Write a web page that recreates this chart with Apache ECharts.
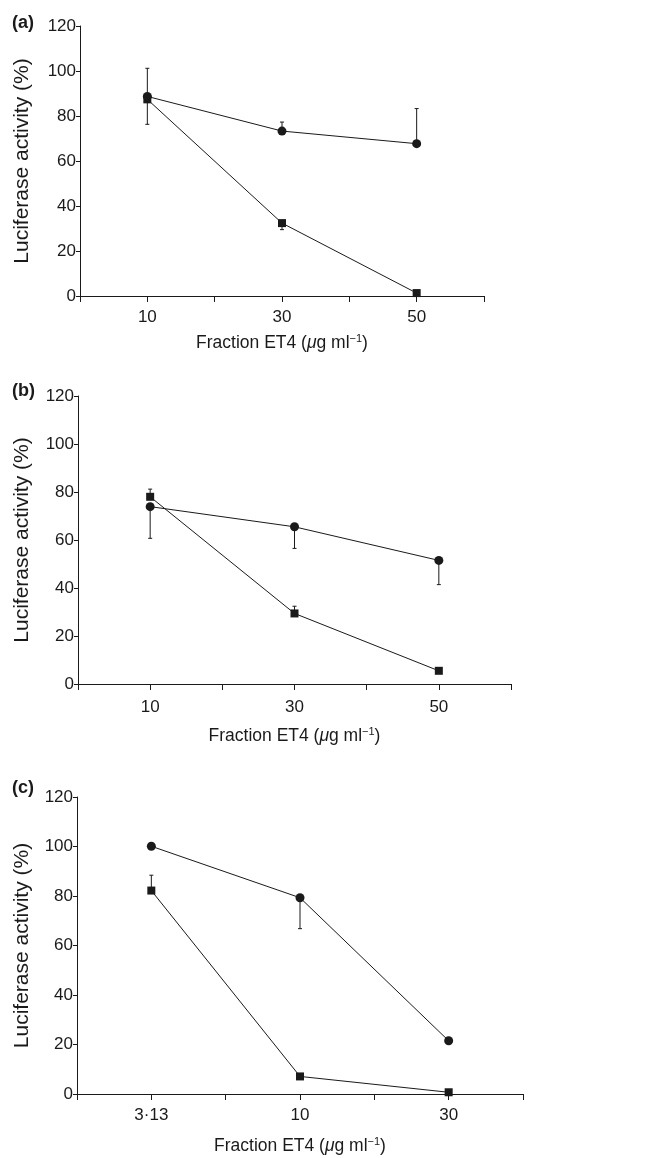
<!DOCTYPE html>
<html>
<head>
<meta charset="utf-8">
<script src="https://cdn.jsdelivr.net/npm/echarts@6/dist/echarts.min.js"></script>
<style>
  html, body { margin: 0; padding: 0; background: #fff; }
  #main { width: 645px; height: 1158px; }
</style>
</head>
<body>
<div id="main"></div>
<script>
// x categories of each panel (ug/ml)
const catsA = ['10', '30', '50']
const catsB = ['10', '30', '50']
const catsC = ['3·13', '10', '30']
const yTicks = [0, 20, 40, 60, 80, 100, 120]

// circles / squares, luciferase activity (%)
const circleA = [88.7, 73.3, 67.7]
const squareA = [87.4, 32.4, 1.3]
const circleB = [73.9, 65.5, 51.5]
const squareB = [78.0, 29.4, 5.5]
const circleC = [100.1, 79.3, 21.5]
const squareC = [82.2, 7.1, 0.7]

// error bar ends [category index, from, to]
const errA = [[0, 88.7, 101.2], [0, 87.4, 76.3], [1, 73.3, 77.3], [1, 32.4, 29.5], [2, 67.7, 83.3]]
const errB = [[0, 78.0, 81.2], [0, 73.9, 60.7], [1, 65.5, 56.5], [1, 29.4, 32.4], [2, 51.5, 41.4]]
const errC = [[0, 82.2, 88.4], [1, 79.3, 66.8]]

const ink = '#1a1a1a'
const font = '"Liberation Sans", Arial, sans-serif'

const xName = '{t|Fraction ET4 (}{m|μ}{t|g ml}{s|−1}{t|)}'
const xNameStyle = {
  fontFamily: font,
  color: ink,
  lineHeight: 21,
  rich: {
    t: { fontSize: 17.5, fontFamily: font, color: ink, lineHeight: 21 },
    m: { fontSize: 17.5, fontFamily: font, color: ink, fontStyle: 'italic', lineHeight: 21 },
    s: { fontSize: 11, fontFamily: font, color: ink, verticalAlign: 'top', lineHeight: 12 }
  }
}

const pos = i => i * 2 + 1

const makeX = (idx, cats, gap, margin) => ({
  type: 'value',
  gridIndex: idx,
  min: 0,
  max: 6,
  interval: 1,
  splitLine: { show: false },
  axisLine: { lineStyle: { color: ink, width: 1 } },
  axisTick: { length: 6, lineStyle: { color: ink } },
  axisLabel: {
    margin: margin,
    color: ink,
    fontSize: 17,
    fontFamily: font,
    formatter: v => (v % 2 === 1 ? cats[(v - 1) / 2] : '')
  },
  name: xName,
  nameLocation: 'middle',
  nameGap: gap,
  nameTextStyle: xNameStyle
})

const makeY = (idx, gap) => ({
  type: 'value',
  gridIndex: idx,
  min: 0,
  max: 120,
  interval: 20,
  splitLine: { show: false },
  axisLine: { show: true, lineStyle: { color: ink, width: 1 } },
  axisTick: { show: true, length: 4, lineStyle: { color: ink } },
  axisLabel: {
    margin: 4,
    color: ink,
    fontSize: 17,
    fontFamily: font,
    formatter: v => (yTicks.indexOf(v) >= 0 ? String(v) : '')
  },
  name: 'Luciferase activity (%)',
  nameLocation: 'middle',
  nameRotate: 90,
  nameGap: gap,
  nameTextStyle: { fontSize: 21, fontFamily: font, color: ink }
})

const lineSeries = (idx, vals, symbol, size) => ({
  type: 'line',
  xAxisIndex: idx,
  yAxisIndex: idx,
  data: vals.map((v, i) => [pos(i), v]),
  symbol: symbol,
  symbolSize: size,
  showSymbol: true,
  z: 3,
  lineStyle: { color: ink, width: 1 },
  itemStyle: { color: ink, borderWidth: 0 }
})

const errSeries = (idx, errs) => ({
  type: 'custom',
  xAxisIndex: idx,
  yAxisIndex: idx,
  z: 2,
  data: errs.map(e => [pos(e[0]), e[1], e[2]]),
  renderItem: (params, api) => {
    const a = api.coord([api.value(0), api.value(1)])
    const b = api.coord([api.value(0), api.value(2)])
    const style = { stroke: ink, lineWidth: 1 }
    return {
      type: 'group',
      children: [
        { type: 'line', shape: { x1: a[0], y1: a[1], x2: b[0], y2: b[1] }, style },
        { type: 'line', shape: { x1: b[0] - 2, y1: b[1], x2: b[0] + 2, y2: b[1] }, style }
      ]
    }
  }
})

const panelLabel = (txt, top) => ({
  type: 'text',
  left: 12,
  top: top,
  style: { text: txt, font: 'bold 18px ' + font, fill: ink }
})

const myEcharts = echarts.init(document.getElementById('main'))
const option = {
  animation: false,
  backgroundColor: '#fff',
  grid: [
    { left: 80, top: 26, width: 404, height: 270 },
    { left: 78, top: 396, width: 433, height: 288 },
    { left: 77, top: 797, width: 446, height: 298 }
  ],
  xAxis: [
    makeX(0, catsA, 37, 13),
    makeX(1, catsB, 42, 15),
    makeX(2, catsC, 42, 13)
  ],
  yAxis: [
    makeY(0, 47),
    makeY(1, 45),
    makeY(2, 44)
  ],
  graphic: [
    panelLabel('(a)', 14),
    panelLabel('(b)', 382),
    panelLabel('(c)', 779)
  ],
  series: [
    errSeries(0, errA),
    lineSeries(0, circleA, 'circle', 9),
    lineSeries(0, squareA, 'rect', 8),
    errSeries(1, errB),
    lineSeries(1, circleB, 'circle', 9),
    lineSeries(1, squareB, 'rect', 8),
    errSeries(2, errC),
    lineSeries(2, circleC, 'circle', 9),
    lineSeries(2, squareC, 'rect', 8)
  ]
}
myEcharts.setOption(option)
</script>
</body>
</html>
